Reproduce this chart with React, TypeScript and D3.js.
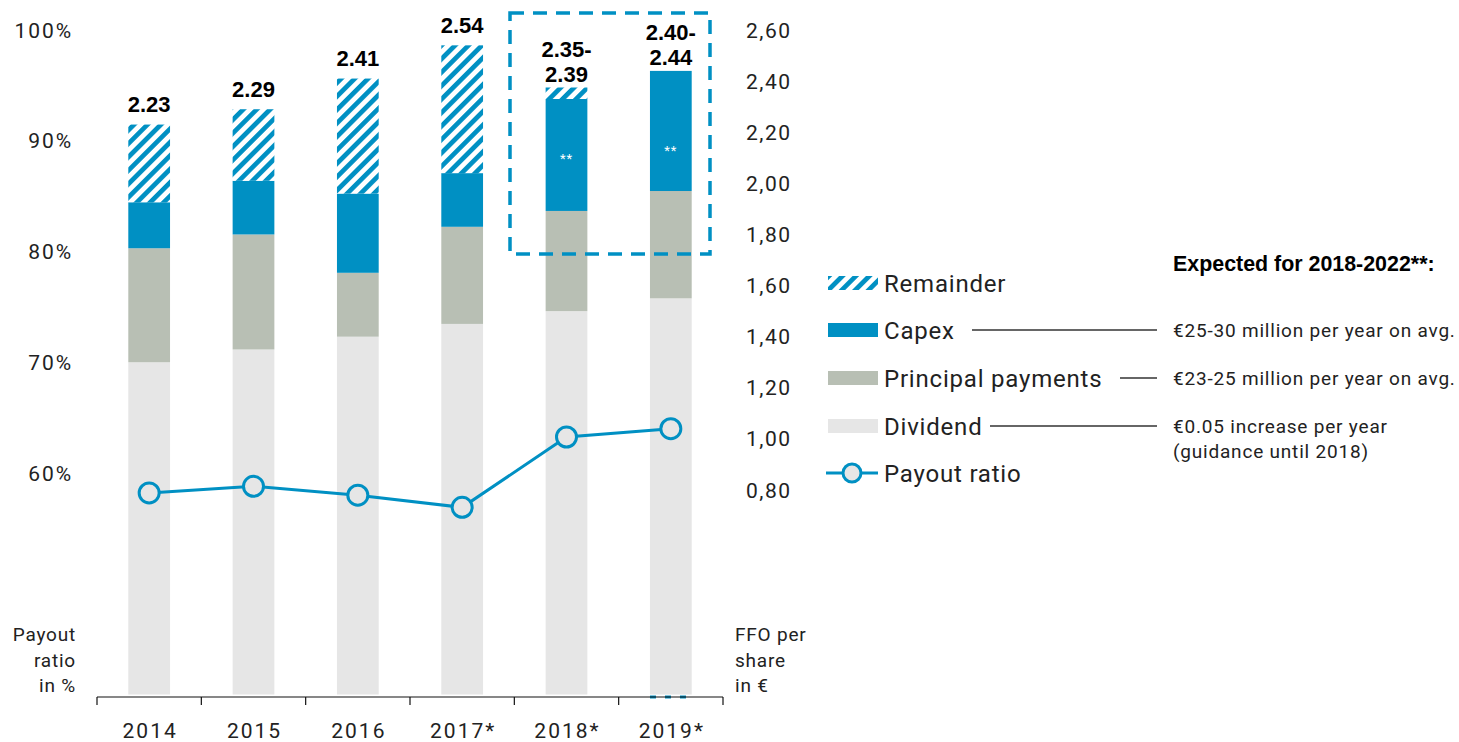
import React from "react";
import * as d3 from "d3";

const years = ["2014", "2015", "2016", "2017*", "2018*", "2019*"];
const dividend = [1.3, 1.35, 1.4, 1.45, 1.5, 1.55];
const principal = [0.446, 0.45, 0.25, 0.38, 0.392, 0.42];
const capex = [0.18, 0.21, 0.31, 0.21, 0.438, 0.47];
const remainder = [0.304, 0.28, 0.45, 0.5, 0.045, 0];
const totalLabels = [["2.23"], ["2.29"], ["2.41"], ["2.54"], ["2.35-", "2.39"], ["2.40-", "2.44"]];
const payout = [58.2, 58.8, 58.0, 56.9, 63.25, 64.0];
const ffoTicks = [0.8, 1.0, 1.2, 1.4, 1.6, 1.8, 2.0, 2.2, 2.4, 2.6];
const pctTicks = [60, 70, 80, 90, 100];
const starLevels = [null, null, null, null, 2.1, 2.13];

const BLUE = "#0090c3";
const GREEN = "#b8bfb4";
const GREY = "#e6e6e6";
const TEXT = "#222";
const FONT = "Roboto, 'DejaVu Sans', sans-serif";
const BOLD = "'Liberation Sans', Arial, sans-serif";

export default function App() {
  const W = 1459, H = 742;
  const x = d3.scaleBand().domain(years).range([97, 723]).paddingInner(0.6).paddingOuter(0.3);
  const yR = d3.scaleLinear().domain([0, 2.6]).range([694.5, 30]);
  const yL = d3.scaleLinear().domain([60, 100]).range([473, 30]);
  const series = [
    { key: "Dividend", vals: dividend, fill: GREY },
    { key: "Principal", vals: principal, fill: GREEN },
    { key: "Capex", vals: capex, fill: BLUE },
    { key: "Remainder", vals: remainder, fill: "url(#hatch)" },
  ];
  const bw = x.bandwidth();
  const line = d3.line<number>().x((_, i) => x(years[i])! + bw / 2).y((d) => yL(d));
  const boundaries = years.map((y) => x(y)! - (x.step() - bw) / 2).concat([x(years[5])! + bw + (x.step() - bw) / 2]);

  const bars: React.ReactNode[] = [];
  const labels: React.ReactNode[] = [];
  years.forEach((yr, i) => {
    let base = 0;
    series.forEach((s) => {
      const v = s.vals[i];
      if (v > 0) {
        bars.push(
          <rect key={yr + s.key} x={x(yr)} width={bw} y={yR(base + v)} height={yR(base) - yR(base + v)} fill={s.fill} />
        );
      }
      base += v;
    });
    const top = yR(base);
    const lines = totalLabels[i];
    const lastBase = lines.length > 1 ? top - 6 : top - 12.5;
    lines.forEach((t, j) => {
      labels.push(
        <text key={yr + "l" + j} x={x(yr)! + bw / 2} y={lastBase - (lines.length - 1 - j) * 25} textAnchor="middle"
          fontFamily={BOLD} fontWeight="bold" fontSize={22} fill="#000">{t}</text>
      );
    });
    const s = starLevels[i];
    if (s !== null) {
      labels.push(
        <text key={yr + "s"} x={x(yr)! + bw / 2} y={yR(s) + 5} textAnchor="middle" fontFamily={FONT} fontSize={13} fill="#fff" letterSpacing={1}>**</text>
      );
    }
  });

  const legendX = 828;
  const legend = [
    { label: "Remainder", y: 283, fill: "url(#hatch)" },
    { label: "Capex", y: 330, fill: BLUE },
    { label: "Principal payments", y: 378, fill: GREEN },
    { label: "Dividend", y: 426, fill: GREY },
  ];
  const notes = [
    { y: 330, x1: 972, lines: ["€25-30 million per year on avg."] },
    { y: 378, x1: 1120, lines: ["€23-25 million per year on avg."] },
    { y: 426, x1: 990, lines: ["€0.05 increase per year", "(guidance until 2018)"] },
  ];

  return (
    <svg width={W} height={H} style={{ position: "absolute", left: 0, top: 0, background: "#fff" }}>
      <defs>
        <pattern id="hatch" patternUnits="userSpaceOnUse" width={9.5} height={9.5} patternTransform="rotate(45)">
          <rect x={0} y={0} width={9.5} height={9.5} fill="#fff" />
          <rect x={0} y={0} width={4.7} height={9.5} fill={BLUE} />
        </pattern>
      </defs>
      {bars}
      {labels}
      {/* dashed box */}
      <rect x={510} y={13} width={200} height={241} fill="none" stroke={BLUE} strokeWidth={3.5} strokeDasharray="14 9" />
      <line x1={x(years[5])} x2={x(years[5])! + bw} y1={697} y2={697} stroke={BLUE} strokeWidth={3} strokeDasharray="6 9" />
      {/* payout line */}
      <path d={line(payout)!} fill="none" stroke={BLUE} strokeWidth={3} />
      {payout.map((p, i) => (
        <circle key={i} cx={x(years[i])! + bw / 2} cy={yL(p)} r={10} fill={GREY} stroke={BLUE} strokeWidth={3} />
      ))}
      {/* x axis */}
      <line x1={boundaries[0]} x2={boundaries[6]} y1={697} y2={697} stroke="#111" strokeWidth={1.2} />
      {boundaries.map((b, i) => (
        <line key={i} x1={b} x2={b} y1={697} y2={705} stroke="#111" strokeWidth={1.2} />
      ))}
      {years.map((yr) => (
        <text key={yr} x={x(yr)! + bw / 2 + 1} y={738} textAnchor="middle" fontFamily={FONT} fontSize={21} letterSpacing={2} fill={TEXT}>{yr}</text>
      ))}
      {/* left axis */}
      {pctTicks.map((t) => (
        <text key={t} x={73} y={yL(t) + 7.5} textAnchor="end" fontFamily={FONT} fontSize={21} letterSpacing={1.9} fill={TEXT}>{t}%</text>
      ))}
      {/* right axis */}
      {ffoTicks.map((t) => (
        <text key={t} x={746} y={yR(t) + 7.5} textAnchor="start" fontFamily={FONT} fontSize={21} letterSpacing={1.5} fill={TEXT}>
          {d3.format(".2f")(t).replace(".", ",")}
        </text>
      ))}
      {["Payout", "ratio", "in %"].map((t, i) => (
        <text key={t} x={76} y={641 + i * 25.5} textAnchor="end" fontFamily={FONT} fontSize={19} letterSpacing={0.8} fill={TEXT}>{t}</text>
      ))}
      {["FFO per", "share", "in €"].map((t, i) => (
        <text key={t} x={735} y={641 + i * 25.5} textAnchor="start" fontFamily={FONT} fontSize={19} letterSpacing={0.8} fill={TEXT}>{t}</text>
      ))}
      {/* legend */}
      {legend.map((l) => (
        <g key={l.label}>
          <rect x={legendX} y={l.y - 7} width={50} height={14} fill={l.fill} />
          <text x={884} y={l.y + 9} fontFamily={FONT} fontSize={24} letterSpacing={0.8} fill={TEXT}>{l.label}</text>
        </g>
      ))}
      <line x1={826} x2={878} y1={473} y2={473} stroke={BLUE} strokeWidth={3} />
      <circle cx={852} cy={473} r={9} fill={GREY} stroke={BLUE} strokeWidth={3} />
      <text x={884} y={482} fontFamily={FONT} fontSize={24} letterSpacing={0.8} fill={TEXT}>Payout ratio</text>
      {/* notes */}
      <text x={1173} y={271} fontFamily={BOLD} fontWeight="bold" fontSize={21.4} fill="#000">Expected for 2018-2022**:</text>
      {notes.map((n) => (
        <g key={n.y}>
          <line x1={n.x1} x2={1157} y1={n.y} y2={n.y} stroke="#333" strokeWidth={1.3} />
          {n.lines.map((t, j) => (
            <text key={j} x={1173} y={n.y + 7 + j * 25} fontFamily={FONT} fontSize={19} letterSpacing={0.8} fill={TEXT}>{t}</text>
          ))}
        </g>
      ))}
    </svg>
  );
}
